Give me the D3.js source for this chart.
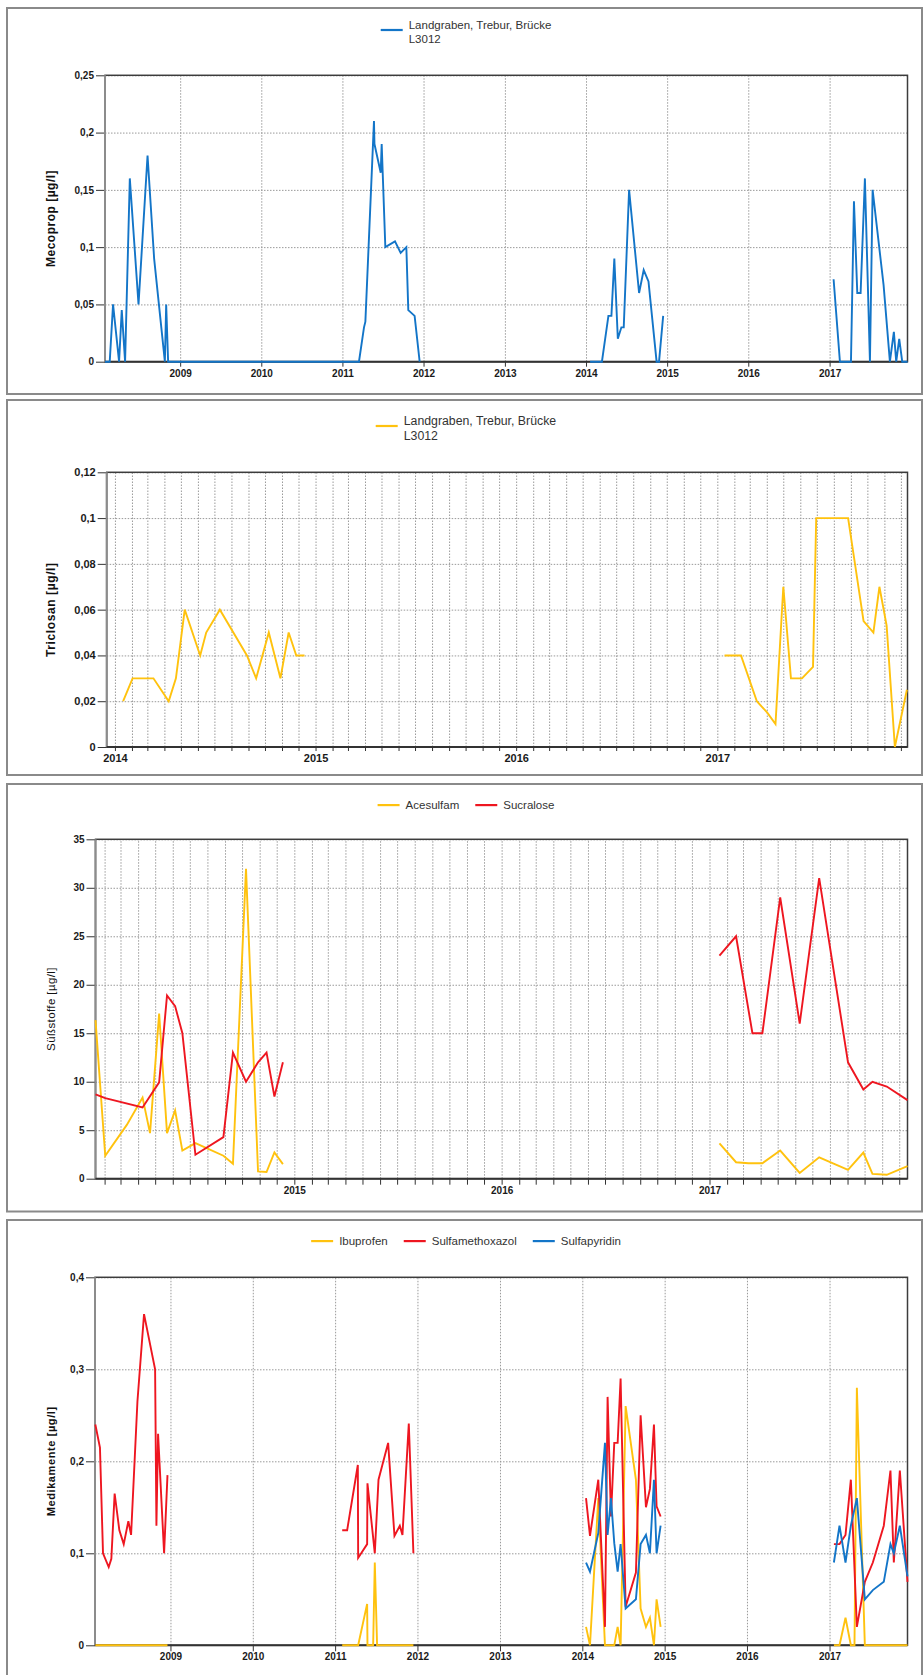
<!DOCTYPE html>
<html>
<head>
<meta charset="utf-8">
<script src="https://cdn.jsdelivr.net/npm/d3@7"></script>
<style>
  body { margin: 0; background: #fff; }
  svg { display: block; }
  text { font-family: "Liberation Sans", Arial, sans-serif; }
</style>
</head>
<body>
<svg id="chart" width="924" height="1675"></svg>
<script>
// values, time as decimal year, null = gap in line
const mecoprop = [
  [2008.076,0],[2008.134,0],[2008.175,0.05],[2008.249,0],[2008.282,0.045],[2008.323,0],[2008.381,0.16],
  [2008.488,0.05],[2008.599,0.18],[2008.68,0.09],[2008.812,0],[2008.828,0.05],[2008.852,0],[2011.204,0],
  [2011.266,0.03],[2011.283,0.035],[2011.389,0.21],[2011.395,0.19],[2011.472,0.165],[2011.484,0.19],
  [2011.529,0.1],[2011.648,0.105],[2011.718,0.095],[2011.788,0.1],[2011.812,0.045],[2011.89,0.04],[2011.952,0],
  [2013,null],
  [2014.05,0],[2014.196,0],[2014.276,0.04],[2014.313,0.04],[2014.349,0.09],[2014.392,0.02],[2014.436,0.03],
  [2014.465,0.03],[2014.531,0.15],[2014.654,0.06],[2014.711,0.08],[2014.77,0.07],[2014.87,0],[2014.9,0],[2014.951,0.04],
  [2016,null],
  [2017.049,0.072],[2017.127,0],[2017.263,0],[2017.3,0.14],[2017.341,0.06],[2017.382,0.06],[2017.435,0.16],
  [2017.497,0],[2017.53,0.15],[2017.665,0.067],[2017.743,0],[2017.792,0.026],[2017.821,0],[2017.858,0.02],
  [2017.895,0],[2017.96,0]
]

const triclosan = [
  [2014.041,0.02],[2014.088,0.03],[2014.192,0.03],[2014.268,0.02],[2014.304,0.03],[2014.348,0.06],[2014.425,0.04],
  [2014.455,0.05],[2014.523,0.06],[2014.658,0.04],[2014.704,0.03],[2014.767,0.05],[2014.825,0.03],[2014.866,0.05],
  [2014.904,0.04],[2014.945,0.04],
  [2016,null],
  [2017.036,0.04],[2017.118,0.04],[2017.197,0.02],[2017.249,0.015],[2017.29,0.01],[2017.329,0.07],[2017.367,0.03],
  [2017.422,0.03],[2017.477,0.035],[2017.493,0.1],[2017.652,0.1],[2017.729,0.055],[2017.778,0.05],[2017.808,0.07],
  [2017.844,0.053],[2017.885,0],[2017.945,0.025]
]

const acesulfam = [
  [2014.041,16.35],[2014.088,2.37],[2014.192,5.55],[2014.268,8.36],[2014.304,4.7],[2014.348,17.04],[2014.386,4.7],
  [2014.425,7.03],[2014.46,2.9],[2014.523,3.67],[2014.658,2.37],[2014.704,1.54],[2014.767,31.95],[2014.825,0.75],
  [2014.866,0.69],[2014.904,2.7],[2014.945,1.5],
  [2016,null],
  [2017.048,3.65],[2017.128,1.7],[2017.188,1.6],[2017.255,1.6],[2017.341,2.9],[2017.435,0.6],[2017.529,2.2],
  [2017.668,0.9],[2017.742,2.7],[2017.786,0.5],[2017.855,0.4],[2017.955,1.3]
]

const sucralose = [
  [2014.041,8.7],[2014.088,8.3],[2014.268,7.34],[2014.348,9.94],[2014.386,18.9],[2014.425,17.8],[2014.46,15],
  [2014.523,2.47],[2014.658,4.29],[2014.704,13],[2014.767,10],[2014.825,12],[2014.866,13],[2014.904,8.47],[2014.945,12],
  [2016,null],
  [2017.048,23],[2017.128,25],[2017.207,15],[2017.255,15],[2017.341,29],[2017.435,16],[2017.529,31],[2017.668,12],
  [2017.742,9.2],[2017.786,10],[2017.855,9.5],[2017.955,8.1]
]

const ibuprofen = [
  [2008.09,0],[2008.964,0],
  [2010,null],
  [2011.086,0],[2011.28,0],[2011.389,0.045],[2011.393,0],[2011.462,0],[2011.482,0.09],[2011.51,0],[2011.951,0],
  [2013,null],
  [2014.045,0.02],[2014.093,0],[2014.194,0.16],[2014.275,0],[2014.388,0],[2014.429,0.02],[2014.465,0],[2014.526,0.26],
  [2014.651,0.18],[2014.708,0.04],[2014.773,0.02],[2014.821,0.03],[2014.87,0],[2014.902,0.05],[2014.951,0.02],
  [2016,null],
  [2017.053,0],[2017.121,0],[2017.194,0.03],[2017.259,0],[2017.303,0],[2017.332,0.28],[2017.429,0],[2017.947,0]
]

const sulfamethoxazol = [
  [2008.09,0.24],[2008.146,0.215],[2008.183,0.1],[2008.252,0.085],[2008.284,0.094],[2008.324,0.165],[2008.381,0.125],
  [2008.434,0.11],[2008.49,0.135],[2008.523,0.12],[2008.6,0.265],[2008.68,0.36],[2008.814,0.3],[2008.83,0.13],
  [2008.85,0.23],[2008.923,0.1],[2008.964,0.185],
  [2010,null],
  [2011.086,0.125],[2011.146,0.125],[2011.276,0.196],[2011.28,0.095],[2011.389,0.11],[2011.393,0.176],[2011.482,0.1],
  [2011.527,0.18],[2011.644,0.22],[2011.721,0.119],[2011.786,0.13],[2011.818,0.12],[2011.895,0.241],[2011.951,0.1],
  [2013,null],
  [2014.045,0.16],[2014.093,0.119],[2014.194,0.18],[2014.275,0.02],[2014.307,0.27],[2014.348,0.14],[2014.388,0.22],
  [2014.429,0.22],[2014.465,0.29],[2014.526,0.042],[2014.651,0.079],[2014.708,0.25],[2014.773,0.15],[2014.821,0.17],
  [2014.87,0.24],[2014.902,0.151],[2014.951,0.14],
  [2016,null],
  [2017.053,0.11],[2017.121,0.11],[2017.194,0.12],[2017.259,0.18],[2017.332,0.02],[2017.429,0.069],[2017.526,0.09],
  [2017.659,0.13],[2017.74,0.19],[2017.781,0.09],[2017.854,0.19],[2017.947,0.069]
]

const sulfapyridin = [
  [2014.045,0.09],[2014.093,0.08],[2014.194,0.122],[2014.275,0.22],[2014.307,0.12],[2014.348,0.16],[2014.388,0.111],
  [2014.429,0.08],[2014.465,0.11],[2014.526,0.04],[2014.651,0.05],[2014.708,0.11],[2014.773,0.12],[2014.821,0.1],
  [2014.87,0.18],[2014.902,0.1],[2014.951,0.13],
  [2016,null],
  [2017.053,0.09],[2017.121,0.13],[2017.194,0.09],[2017.259,0.13],[2017.332,0.16],[2017.429,0.05],[2017.526,0.06],
  [2017.659,0.069],[2017.74,0.11],[2017.781,0.1],[2017.854,0.13],[2017.947,0.075]
]

const stationLabel = ['Landgraben, Trebur, Brücke', 'L3012']
const yTitles = ['Mecoprop [µg/l]', 'Triclosan [µg/l]', 'Süßstoffe [µg/l]', 'Medikamente [µg/l]']
const xDomains = [[2008.076, 2017.96], [2013.959, 2017.948], [2014.041, 2017.955], [2008.086, 2017.947]]
const yMaxes = [0.25, 0.12, 35, 0.4]
const ySteps = [0.05, 0.02, 5, 0.1]

const BLUE = '#1375c8', YELLOW = '#ffc20e', RED = '#ee1620'

const svg = d3.select('#chart')
const de = d3.formatLocale({decimal: ',', thousands: '.', grouping: [3], currency: ['', ' €']})
const fmt = de.format('~g')

function toDate(v) {
  const y = Math.floor(v)
  const a = new Date(y, 0, 1), b = new Date(y + 1, 0, 1)
  return new Date(+a + (v - y) * (b - a))
}

function panel(o) {
  const g = svg.append('g')
  const [left, right, top, bottom] = o.box

  g.append('rect')
    .attr('x', 7).attr('y', o.frame[0])
    .attr('width', 915).attr('height', o.frame[1] - o.frame[0])
    .attr('fill', '#fff').attr('stroke', '#8a8a8a').attr('stroke-width', 2)

  const x = d3.scaleTime().domain(o.xDomain.map(toDate)).range([left, right])
  const y = d3.scaleLinear().domain([0, o.yMax]).range([bottom, top])
  const yTicks = d3.range(0, o.yMax + o.yStep / 2, o.yStep).map(v => +v.toFixed(4))
  const xTicks = (o.monthly ? d3.timeMonth : d3.timeYear).range(x.domain()[0], x.domain()[1])

  // grid
  g.append('g').attr('transform', `translate(0,${bottom})`)
    .call(d3.axisBottom(x).tickValues(xTicks).tickSize(-(bottom - top)).tickFormat(''))
    .call(s => s.select('.domain').remove())
    .selectAll('line').attr('stroke', '#9a9a9a').attr('stroke-dasharray', '1.5,1.5')
  g.append('g').attr('transform', `translate(${left},0)`)
    .call(d3.axisLeft(y).tickValues(yTicks.slice(1)).tickSize(-(right - left)).tickFormat(''))
    .call(s => s.select('.domain').remove())
    .selectAll('line').attr('stroke', '#9a9a9a').attr('stroke-dasharray', '1.5,1.5')

  // plot border
  g.append('rect').attr('x', left).attr('y', top).attr('width', right - left).attr('height', bottom - top)
    .attr('fill', 'none').attr('stroke', '#3c3c3c').attr('stroke-width', 1.5)

  // axes
  const ax = g.append('g').attr('transform', `translate(0,${bottom})`)
    .call(d3.axisBottom(x).tickValues(xTicks).tickSize(o.xTick).tickPadding(o.xPad)
      .tickFormat(d => d.getMonth() === 0 ? d.getFullYear() : ''))
  ax.select('.domain').remove()
  ax.selectAll('line').attr('stroke', '#333')
  ax.selectAll('text').attr('font-size', o.tickFont).attr('font-weight', 'bold').attr('fill', '#1a1a1a')

  const ay = g.append('g').attr('transform', `translate(${left},0)`)
    .call(d3.axisLeft(y).tickValues(yTicks).tickSize(9).tickPadding(2).tickFormat(fmt))
  ay.select('.domain').remove()
  ay.selectAll('line').attr('stroke', '#333')
  ay.selectAll('text').attr('font-size', o.tickFont).attr('font-weight', 'bold').attr('fill', '#1a1a1a')

  g.append('line').attr('x1', left).attr('x2', left).attr('y1', top).attr('y2', bottom)
    .attr('stroke', '#8c8c8c').attr('stroke-width', 2)
  g.append('line').attr('x1', left).attr('x2', right).attr('y1', bottom).attr('y2', bottom)
    .attr('stroke', '#333').attr('stroke-width', 2)

  // y title
  g.append('text')
    .attr('transform', `translate(51,${(top + bottom) / 2}) rotate(-90)`)
    .attr('text-anchor', 'middle').attr('dy', '0.35em')
    .attr('font-size', o.titleFont).attr('font-weight', o.titleBold ? 'bold' : 'normal')
    .attr('letter-spacing', o.titleSpacing)
    .attr('fill', '#111')
    .text(o.title)

  // series
  const line = d3.line()
    .defined(d => d[1] != null)
    .x(d => x(toDate(d[0])))
    .y(d => y(d[1]))
  g.selectAll('path.series').data(o.series).enter().append('path')
    .attr('class', 'series')
    .attr('d', s => line(s.values))
    .attr('fill', 'none')
    .attr('stroke', s => s.color)
    .attr('stroke-width', 1.9)
    .attr('stroke-linejoin', 'miter')

  // legend, centred on the panel
  const lg = g.append('g')
  const items = o.series.map(s => {
    const it = lg.append('g')
    const t = it.append('text').attr('font-size', o.legendFont).attr('fill', '#333')
    s.label.forEach((l, i) => t.append('tspan').attr('x', 28).attr('y', o.legendY + i * o.legendLine).text(l))
    const w = t.node().getBBox().width
    const sy = s.label.length > 1 ? o.legendY + 1 : o.legendY - o.legendFont * 0.34
    it.append('line').attr('x1', 0).attr('x2', 22).attr('y1', sy).attr('y2', sy)
      .attr('stroke', s.color).attr('stroke-width', 2.2)
    return {it, w: 28 + w}
  })
  const total = d3.sum(items, d => d.w) + 16 * (items.length - 1)
  let cx = 466 - total / 2
  items.forEach(d => { d.it.attr('transform', `translate(${cx},0)`); cx += d.w + 16 })
}

panel({
  frame: [8, 394], box: [105, 907.5, 75.3, 361.7],
  xDomain: xDomains[0], yMax: yMaxes[0], yStep: ySteps[0], monthly: false,
  xTick: 5, xPad: 3, tickFont: 10, title: yTitles[0], titleFont: 12, titleBold: true, titleSpacing: 0.5,
  legendY: 29, legendLine: 13.5, legendFont: 11.5,
  series: [{label: stationLabel, values: mecoprop, color: BLUE}]
})

panel({
  frame: [400, 775], box: [106.7, 907.5, 472.3, 747],
  xDomain: xDomains[1], yMax: yMaxes[1], yStep: ySteps[1], monthly: true,
  xTick: 4, xPad: 3.5, tickFont: 11, title: yTitles[1], titleFont: 12, titleBold: true, titleSpacing: 0.6,
  legendY: 425, legendLine: 15, legendFont: 12.3,
  series: [{label: stationLabel, values: triclosan, color: YELLOW}]
})

panel({
  frame: [784, 1211.5], box: [95.5, 907.5, 839.3, 1178.7],
  xDomain: xDomains[2], yMax: yMaxes[2], yStep: ySteps[2], monthly: true,
  xTick: 6, xPad: 2, tickFont: 10, title: yTitles[2], titleFont: 11.5, titleBold: false, titleSpacing: 0.4,
  legendY: 809, legendLine: 14, legendFont: 11.5,
  series: [
    {label: ['Acesulfam'], values: acesulfam, color: YELLOW},
    {label: ['Sucralose'], values: sucralose, color: RED}
  ]
})

panel({
  frame: [1220, 1700], box: [95, 907.5, 1277.3, 1645.3],
  xDomain: xDomains[3], yMax: yMaxes[3], yStep: ySteps[3], monthly: false,
  xTick: 6, xPad: 2, tickFont: 10, title: yTitles[3], titleFont: 11, titleBold: true, titleSpacing: 0.6,
  legendY: 1245, legendLine: 14, legendFont: 11.5,
  series: [
    {label: ['Ibuprofen'], values: ibuprofen, color: YELLOW},
    {label: ['Sulfamethoxazol'], values: sulfamethoxazol, color: RED},
    {label: ['Sulfapyridin'], values: sulfapyridin, color: BLUE}
  ]
})
</script>
</body>
</html>
